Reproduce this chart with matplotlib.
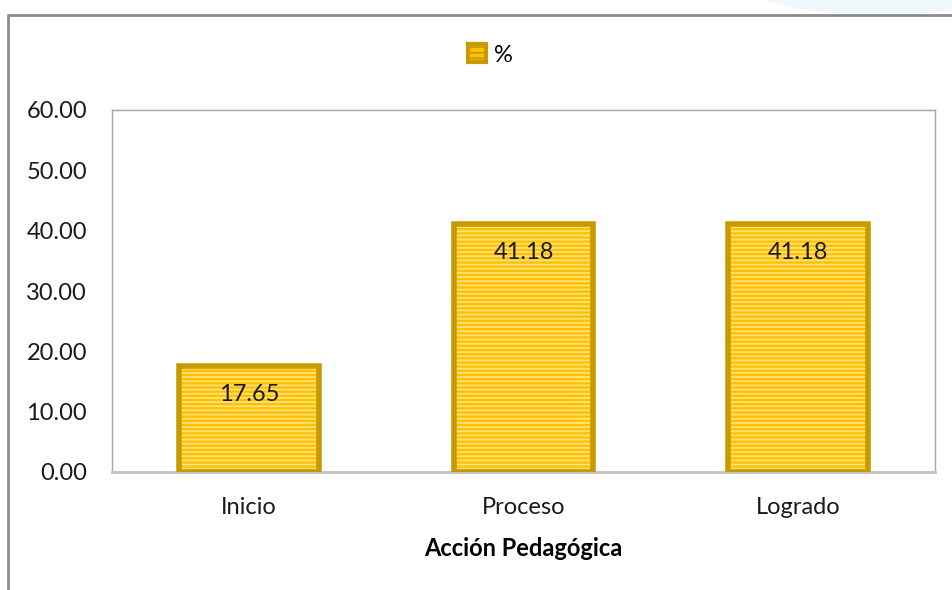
import matplotlib.pyplot as plt
from matplotlib.lines import Line2D
from matplotlib.patches import Ellipse, Patch

# Datos
categorias = ['Inicio', 'Proceso', 'Logrado']
porcentajes = [17.65, 41.18, 41.18]
ticks_y = [0, 10, 20, 30, 40, 50, 60]

plt.rcParams['font.family'] = ['Lato', 'DejaVu Sans']
plt.rcParams['hatch.linewidth'] = 1.3

fig = plt.figure(figsize=(9.52, 5.9), dpi=100)

# Forma azul clara de fondo (esquina superior derecha)
fig.patches.append(Ellipse((880 / 952, 1 + 20 / 590), 280 / 952, 70 / 590,
                           transform=fig.transFigure, facecolor='#EEF7FC',
                           edgecolor='none', zorder=0))

# Marco exterior del grafico
fig.add_artist(Line2D([8 / 952, 8 / 952, 1], [0, 1 - 15 / 590, 1 - 15 / 590],
                      transform=fig.transFigure, color='#8C8C8C', lw=2))

ax = fig.add_axes([112 / 952, 1 - 472 / 590, 823 / 952, 362 / 590])
x = range(len(categorias))

# Relleno con rayas horizontales
ax.bar(x, porcentajes, width=0.51, color='#FFC000', edgecolor='#FFE27A',
       hatch='----', linewidth=0, zorder=2)
# Borde de las barras
ax.bar(x, porcentajes, width=0.51, fill=False, edgecolor='#C59B00',
       linewidth=4, zorder=3)

for xi, v in zip(x, porcentajes):
    ax.annotate(f'{v:.2f}', (xi, v), xytext=(0, -21), textcoords='offset points',
                ha='center', va='center', fontsize=17, color='#1A1A1A', zorder=4)

ax.set_xlim(-0.5, 2.5)
ax.set_ylim(0, 60)
ax.set_yticks(ticks_y)
ax.set_yticklabels([f'{t:.2f}' for t in ticks_y], fontsize=17)
ax.set_xticks(list(x))
ax.set_xticklabels(categorias, fontsize=17)
ax.tick_params(axis='both', length=0, colors='#1A1A1A')
ax.tick_params(axis='y', pad=18)
ax.tick_params(axis='x', pad=18)

for lado in ['top', 'right', 'left']:
    ax.spines[lado].set_color('#A6A6A6')
    ax.spines[lado].set_linewidth(1)
ax.spines['bottom'].set_color('#BFBFBF')
ax.spines['bottom'].set_linewidth(2)

ax.set_xlabel('Acción Pedagógica', fontsize=17, fontweight='bold', labelpad=14)

# Leyenda
leyenda = [Patch(facecolor='#FFC000', edgecolor='#C59B00', hatch='---', linewidth=3)]
fig.legend(leyenda, ['%'], loc='center', bbox_to_anchor=(490 / 952, 1 - 55 / 590),
           frameon=False, fontsize=17, handlelength=0.8, handleheight=0.8,
           handletextpad=0.3)

fig.savefig('out.png', dpi=100)
